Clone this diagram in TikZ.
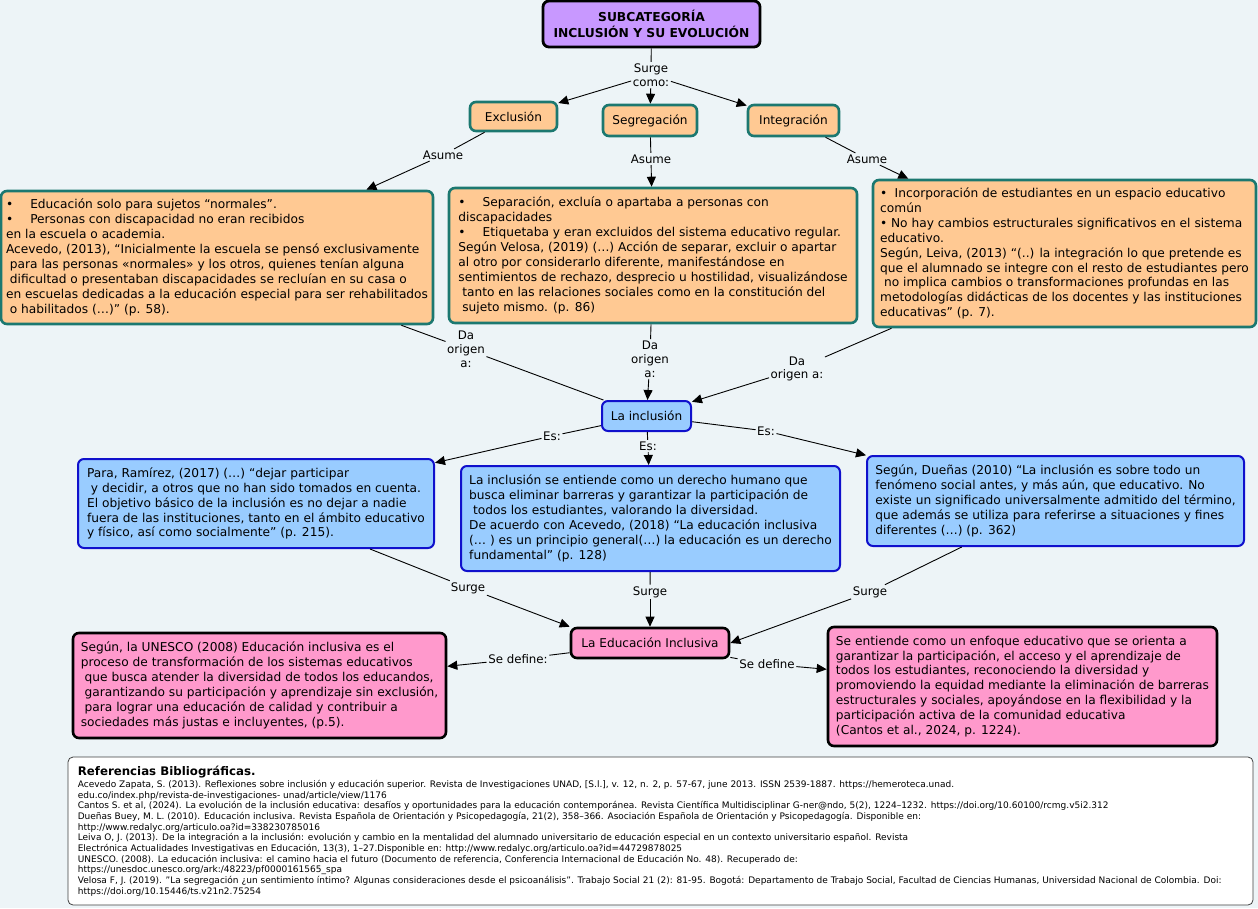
\documentclass[tikz,border=0pt]{standalone}
\usepackage{fontspec}
\setmainfont{DejaVu Sans}
\usetikzlibrary{arrows.meta}
\definecolor{fondo}{RGB}{237,244,247}
\definecolor{lila}{RGB}{200,152,255}
\definecolor{durazno}{RGB}{255,201,147}
\definecolor{verdeazul}{RGB}{28,120,112}
\definecolor{celeste}{RGB}{153,204,255}
\definecolor{azulosc}{RGB}{16,16,204}
\definecolor{rosado}{RGB}{255,153,204}
\newcommand{\ind}{\hspace*{0.32em}}
\tikzset{
    base/.style={rounded corners=6pt, align=left, inner sep=0pt,
        font=\fontsize{12.2}{14.9}\selectfont},
    titulo/.style={base, align=center, draw=black, line width=2.8pt, fill=lila,
        font=\fontsize{12.3}{15.5}\selectfont\bfseries},
    naranja/.style={base, draw=verdeazul, line width=2.6pt, fill=durazno},
    azul/.style={base, draw=azulosc, line width=2pt, fill=celeste},
    rosa/.style={base, draw=black, line width=2.6pt, fill=rosado},
    corto/.style={align=center, font=\fontsize{12.1}{14}\selectfont},
    enlace/.style={align=center, inner sep=1.5pt, font=\fontsize{11.8}{13.8}\selectfont},
    linea/.style={line width=0.9pt},
    flecha/.style={linea, -{Triangle[length=10pt,width=9pt]}}
}
\begin{document}
\begin{tikzpicture}[x=1pt,y=-1pt]
    \fill[fondo] (0,0) rectangle (1258,908);
    \useasboundingbox (0,0) rectangle (1258,908);

    \node[titulo, minimum width=217pt, minimum height=46pt] (tit) at (651.5,24)
        {SUBCATEGORÍA\\INCLUSIÓN Y SU EVOLUCIÓN};
    \node[enlace] (surge) at (651,75) {Surge\\como:};

    \node[naranja, corto, minimum width=87pt, minimum height=29pt] (excl) at (513.5,116.5) {Exclusión};
    \node[naranja, corto, minimum width=94pt, minimum height=31pt] (segr) at (650,120.5) {Segregación};
    \node[naranja, corto, minimum width=91pt, minimum height=31pt] (integ) at (793.5,120.5) {Integración};

    \node[enlace] (asume1) at (443,155) {Asume};
    \node[enlace] (asume2) at (651,159) {Asume};
    \node[enlace] (asume3) at (867,159) {Asume};

    \node[naranja, minimum width=432pt, minimum height=133pt] (exclbox) at (217,257.5)
        {•\hspace{1.4em}Educación solo para  sujetos “normales”.\\
         •\hspace{1.4em}Personas con discapacidad no eran recibidos\\
         en la escuela o academia.\\
         Acevedo, (2013), “Inicialmente la escuela se pensó exclusivamente\\
         \ind para las personas «normales» y los  otros, quienes tenían alguna\\
         \ind dificultad o presentaban discapacidades se recluían en su casa o\\
         en escuelas dedicadas a la educación especial para ser rehabilitados\\
         \ind o habilitados (…)” (p. 58).};
    \node[naranja, minimum width=408pt, minimum height=135pt] (segrbox) at (653,255.5)
        {•\hspace{1.4em}Separación, excluía o apartaba a personas con\\
         discapacidades\\
         •\hspace{1.4em}Etiquetaba y eran excluidos del sistema educativo regular.\\
         Según Velosa, (2019) (…) Acción de separar, excluir o apartar\\
         al otro por considerarlo diferente, manifestándose en\\
         sentimientos  de rechazo, desprecio u hostilidad, visualizándose\\
         \ind tanto en las  relaciones sociales como en la constitución del\\
         \ind sujeto mismo. (p. 86)};
    \node[naranja, minimum width=383pt, minimum height=147pt] (integbox) at (1064.5,253.5)
        {•\hspace{0.6em}Incorporación de estudiantes en un espacio educativo\\
         común\\
         •\hspace{0.3em}No hay cambios estructurales significativos en el sistema\\
         educativo.\\
         Según, Leiva, (2013) “(..) la integración lo que pretende es\\
         que el alumnado se integre con el resto de estudiantes pero\\
         \ind no implica cambios o transformaciones profundas en las\\
         metodologías didácticas de los docentes y las instituciones\\
         educativas” (p. 7).};

    \node[enlace] (origen1) at (466,349) {Da\\origen\\a:};
    \node[enlace] (origen2) at (650,359) {Da\\origen\\a:};
    \node[enlace] (origen3) at (797,369) {Da\\origen a:};

    \node[azul, corto, minimum width=89pt, minimum height=30pt] (inc) at (646.5,416) {La inclusión};

    \node[enlace] (es1) at (552,436) {Es:};
    \node[enlace] (es2) at (648,446) {Es:};
    \node[enlace] (es3) at (766,431) {Es:};

    \node[azul, minimum width=356pt, minimum height=89pt] (ramirez) at (256,503.5)
        {Para, Ramírez, (2017) (…) “dejar participar\\
         \ind y decidir, a otros que no han sido tomados en cuenta.\\
         El objetivo básico de la inclusión es no dejar a nadie\\
         fuera de las instituciones, tanto en el ámbito educativo\\
         y físico, así como socialmente” (p. 215).};
    \node[azul, minimum width=379pt, minimum height=105pt] (acevedo) at (650.5,518.5)
        {La inclusión se entiende como un derecho humano que\\
         busca eliminar barreras y garantizar la participación de\\
         \ind todos los estudiantes, valorando la diversidad.\\
         De acuerdo con Acevedo, (2018) “La educación inclusiva\\
         (… ) es un principio general(…) la educación es un derecho\\
         fundamental” (p. 128)};
    \node[azul, minimum width=377pt, minimum height=90pt] (duenas) at (1055.5,501)
        {Según, Dueñas (2010) “La inclusión es sobre todo un\\
         fenómeno social antes, y más aún, que educativo. No\\
         existe un significado universalmente admitido del término,\\
         que además se utiliza para referirse a situaciones y fines\\
         diferentes (…) (p. 362)};

    \node[enlace] (surge1) at (468,588) {Surge};
    \node[enlace] (surge2) at (650,592) {Surge};
    \node[enlace] (surge3) at (870,592) {Surge};

    \node[rosa, corto, minimum width=158pt, minimum height=30pt] (edinc) at (650,643) {La Educación Inclusiva};

    \node[enlace] (define1) at (518,659) {Se define:};
    \node[enlace] (define2) at (767,664) {Se define};

    \node[rosa, minimum width=373pt, minimum height=105pt] (unesco) at (259.5,685.5)
        {Según, la UNESCO (2008) Educación inclusiva es el\\
         proceso de transformación de los sistemas educativos\\
         \ind que busca atender la diversidad de todos los educandos,\\
         \ind garantizando su participación y aprendizaje sin exclusión,\\
         \ind para lograr una educación de calidad y contribuir a\\
         sociedades más justas e incluyentes, (p.5).};
    \node[rosa, minimum width=389pt, minimum height=119pt] (cantos) at (1022.5,686.5)
        {Se entiende como un enfoque educativo que se orienta a\\
         garantizar la participación, el acceso y el aprendizaje de\\
         todos los estudiantes, reconociendo la diversidad y\\
         promoviendo la equidad mediante la eliminación de barreras\\
         estructurales y sociales, apoyándose en la flexibilidad y la\\
         participación activa de la comunidad educativa\\
         (Cantos et al., 2024, p. 1224).};

    \draw[linea] (tit) -- (surge);
    \foreach \n in {excl, segr, integ}
        \draw[flecha] (surge) -- (\n);

    \draw[linea] (excl) -- (asume1);
    \draw[flecha] (asume1) -- (exclbox);
    \draw[linea] (segr) -- (asume2);
    \draw[flecha] (asume2) -- (segrbox);
    \draw[linea] (integ) -- (asume3);
    \draw[flecha] (asume3) -- (integbox);

    \draw[linea] (exclbox) -- (origen1);
    \draw[linea] (origen1) -- (inc);
    \draw[linea] (segrbox) -- (origen2);
    \draw[flecha] (origen2) -- (inc);
    \draw[linea] (integbox) -- (origen3);
    \draw[flecha] (origen3) -- (inc);

    \draw[linea] (inc) -- (es1);
    \draw[flecha] (es1) -- (ramirez);
    \draw[linea] (inc) -- (es2);
    \draw[flecha] (es2) -- (acevedo);
    \draw[linea] (inc) -- (es3);
    \draw[flecha] (es3) -- (duenas);

    \draw[linea] (ramirez) -- (surge1);
    \draw[flecha] (surge1) -- (edinc.north west);
    \draw[linea] (acevedo) -- (surge2);
    \draw[flecha] (surge2) -- (edinc);
    \draw[linea] (duenas) -- (surge3);
    \draw[flecha] (surge3) -- (edinc.east);

    \draw[linea] (edinc) -- (define1);
    \draw[flecha] (define1) -- (unesco);
    \draw[linea] (edinc) -- (define2);
    \draw[flecha] (define2) -- (cantos);

    \node[draw=black!75, fill=white, rounded corners=5pt, line width=0.8pt,
        minimum width=1185pt, minimum height=148pt] (refs) at (660.5,831) {};
    \node[anchor=north west, inner sep=0pt, font=\fontsize{11.8}{13}\selectfont\bfseries]
        (refstit) at ([shift={(10,9)}]refs.north west) {Referencias Bibliográficas.};
    \node[anchor=north west, inner sep=0pt, align=left, font=\fontsize{9}{10.7}\selectfont]
        (refslist) at ([shift={(0,2)}]refstit.south west)
        {Acevedo Zapata, S. (2013). Reflexiones sobre inclusión y educación superior. Revista de Investigaciones UNAD,  [S.l.], v. 12, n. 2, p. 57-67, june 2013. ISSN 2539-1887. https://hemeroteca.unad.\\
         edu.co/index.php/revista-de-investigaciones- unad/article/view/1176\\
         Cantos S. et al, (2024). La evolución de la inclusión educativa: desafíos y oportunidades para la educación contemporánea. Revista Científica Multidisciplinar G-ner@ndo, 5(2), 1224–1232. https://doi.org/10.60100/rcmg.v5i2.312\\
         Dueñas Buey, M. L. (2010). Educación inclusiva. Revista Española de Orientación y Psicopedagogía, 21(2), 358–366. Asociación Española de Orientación y Psicopedagogía. Disponible en:\\
         http://www.redalyc.org/articulo.oa?id=338230785016\\
         Leiva O, J. (2013). De la integración a la inclusión: evolución y cambio en la mentalidad del alumnado universitario de educación especial en un contexto universitario español. Revista\\
         Electrónica Actualidades Investigativas en Educación, 13(3), 1–27.Disponible en: http://www.redalyc.org/articulo.oa?id=44729878025\\
         UNESCO. (2008). La educación inclusiva: el camino hacia el futuro (Documento de referencia, Conferencia Internacional de Educación No. 48). Recuperado de:\\
         https://unesdoc.unesco.org/ark:/48223/pf0000161565\_spa\\
         Velosa F, J. (2019). "La segregación ¿un sentimiento íntimo? Algunas consideraciones desde el psicoanálisis". Trabajo Social 21 (2): 81-95. Bogotá: Departamento de Trabajo Social, Facultad de Ciencias Humanas, Universidad Nacional de Colombia. Doi:\\
         https://doi.org/10.15446/ts.v21n2.75254};
\end{tikzpicture}
\end{document}
